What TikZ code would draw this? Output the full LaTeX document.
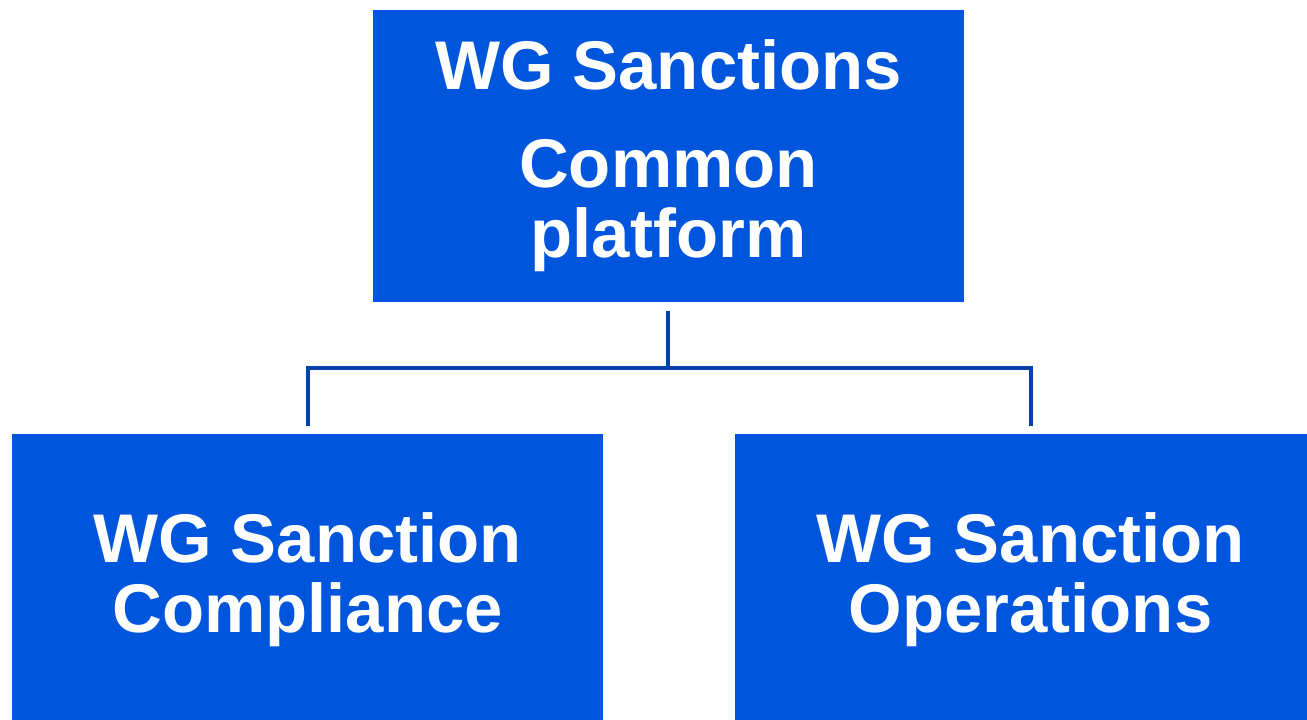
\documentclass[tikz,border=0pt]{standalone}
\usepackage{fontspec}
\setmainfont{Liberation Sans}
\definecolor{boxblue}{RGB}{0,85,221}
\definecolor{lineblue}{RGB}{0,65,170}
\tikzset{
groupbox/.style={fill=boxblue, draw=none, text=white, align=center,
  minimum width=5.91cm, minimum height=2.92cm, inner sep=0pt,
  font=\bfseries\fontsize{19.6}{19.9}\selectfont},
link/.style={draw=lineblue, line width=0.04cm,
  shorten <=0.08cm, shorten >=0.07cm}
}
\begin{document}
\begin{tikzpicture}
  \useasboundingbox (0,0) rectangle (13.07,7.20);
  \node[groupbox] (platform) at (6.685,5.64) {WG Sanctions\\[8pt]Common\\platform};
  \node[groupbox] (compliance) at (3.075,1.40) {WG Sanction\\Compliance};
  \node[groupbox] (operations) at (10.305,1.40) {WG Sanction\\Operations};
  \coordinate (fork) at (6.68,3.52);
  \draw[link] (platform.south -| fork) -- (fork) -| (compliance.north);
  \draw[link, shorten <=0pt] (fork) -| (operations.north);
\end{tikzpicture}
\end{document}
